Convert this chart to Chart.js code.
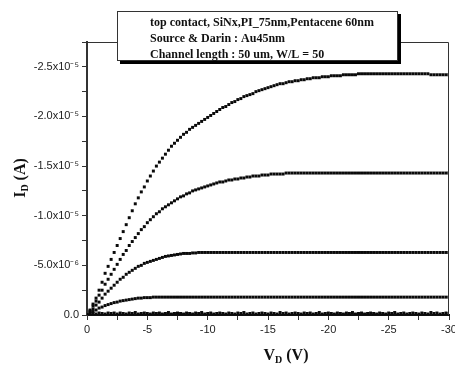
<!DOCTYPE html>
<html>
<head>
<meta charset="utf-8">
<script src="https://cdn.jsdelivr.net/npm/chart.js@4.4.1/dist/chart.umd.min.js"></script>
<style>
  body { margin: 0; background: #fff; }
  #output { display: block; }
</style>
</head>
<body>
<canvas id="output" width="455" height="365"></canvas>
<script>
// drain voltage sweep (V)
const vdSweep = [
  0, -0.25, -0.5, -0.75, -1, -1.25, -1.5, -1.75, -2, -2.25,
  -2.5, -2.75, -3, -3.25, -3.5, -3.75, -4, -4.25, -4.5, -4.75,
  -5, -5.25, -5.5, -5.75, -6, -6.25, -6.5, -6.75, -7, -7.25,
  -7.5, -7.75, -8, -8.25, -8.5, -8.75, -9, -9.25, -9.5, -9.75,
  -10, -10.25, -10.5, -10.75, -11, -11.25, -11.5, -11.75, -12, -12.25,
  -12.5, -12.75, -13, -13.25, -13.5, -13.75, -14, -14.25, -14.5, -14.75,
  -15, -15.25, -15.5, -15.75, -16, -16.25, -16.5, -16.75, -17, -17.25,
  -17.5, -17.75, -18, -18.25, -18.5, -18.75, -19, -19.25, -19.5, -19.75,
  -20, -20.25, -20.5, -20.75, -21, -21.25, -21.5, -21.75, -22, -22.25,
  -22.5, -22.75, -23, -23.25, -23.5, -23.75, -24, -24.25, -24.5, -24.75,
  -25, -25.25, -25.5, -25.75, -26, -26.25, -26.5, -26.75, -27, -27.25,
  -27.5, -27.75, -28, -28.25, -28.5, -28.75, -29, -29.25, -29.5, -29.75,
  -30,
];

// |I_D|, in uA (plotted as negative amps)
const idCurve1 = [
  0, 0.5, 1.1, 1.7, 2.5, 3.3, 4.2, 4.9, 5.6, 6.3,
  7.0, 7.7, 8.4, 9.1, 9.8, 10.5, 11.2, 11.8, 12.4, 12.9,
  13.5, 14.0, 14.5, 15.0, 15.4, 15.8, 16.2, 16.6, 17.0, 17.3,
  17.6, 17.9, 18.2, 18.4, 18.7, 18.9, 19.1, 19.3, 19.5, 19.7,
  19.9, 20.1, 20.3, 20.5, 20.7, 20.9, 21.0, 21.2, 21.4, 21.5,
  21.7, 21.8, 22.0, 22.1, 22.2, 22.3, 22.5, 22.6, 22.7, 22.8,
  22.9, 23.0, 23.1, 23.2, 23.3, 23.3, 23.4, 23.5, 23.5, 23.6,
  23.6, 23.7, 23.7, 23.8, 23.8, 23.9, 23.9, 23.9, 24.0, 24.0,
  24.0, 24.1, 24.1, 24.1, 24.1, 24.2, 24.2, 24.2, 24.2, 24.2,
  24.3, 24.3, 24.3, 24.3, 24.3, 24.3, 24.3, 24.3, 24.3, 24.3,
  24.3, 24.3, 24.3, 24.3, 24.3, 24.3, 24.3, 24.3, 24.3, 24.3,
  24.3, 24.3, 24.3, 24.3, 24.2, 24.2, 24.2, 24.2, 24.2, 24.2,
  24.2,
];
const idCurve2 = [
  0, 0.4, 0.9, 1.4, 2.0, 2.5, 3.1, 3.6, 4.1, 4.6,
  5.1, 5.6, 6.1, 6.5, 7.0, 7.4, 7.8, 8.2, 8.6, 8.9,
  9.3, 9.6, 9.9, 10.2, 10.4, 10.7, 10.9, 11.1, 11.3, 11.5,
  11.7, 11.9, 12.0, 12.2, 12.3, 12.5, 12.6, 12.7, 12.8, 12.9,
  13.0, 13.1, 13.2, 13.3, 13.4, 13.4, 13.5, 13.6, 13.6, 13.7,
  13.7, 13.8, 13.8, 13.9, 13.9, 14.0, 14.0, 14.0, 14.1, 14.1,
  14.1, 14.2, 14.2, 14.2, 14.2, 14.2, 14.3, 14.3, 14.3, 14.3,
  14.3, 14.3, 14.3, 14.3, 14.3, 14.3, 14.3, 14.3, 14.3, 14.3,
  14.3, 14.3, 14.3, 14.3, 14.3, 14.3, 14.3, 14.3, 14.3, 14.3,
  14.3, 14.3, 14.3, 14.3, 14.3, 14.3, 14.3, 14.3, 14.3, 14.3,
  14.3, 14.3, 14.3, 14.3, 14.3, 14.3, 14.3, 14.3, 14.3, 14.3,
  14.3, 14.3, 14.3, 14.3, 14.3, 14.3, 14.3, 14.3, 14.3, 14.3,
  14.3,
];
const idCurve3 = [
  0, 0.3, 0.6, 1.0, 1.3, 1.7, 2.1, 2.4, 2.7, 3.0,
  3.3, 3.6, 3.8, 4.1, 4.3, 4.5, 4.7, 4.9, 5.0, 5.2,
  5.3, 5.4, 5.5, 5.6, 5.7, 5.8, 5.9, 5.95, 6.0, 6.05,
  6.1, 6.15, 6.2, 6.2, 6.2, 6.25, 6.25, 6.3, 6.3, 6.3,
  6.3, 6.3, 6.3, 6.3, 6.3, 6.3, 6.3, 6.3, 6.3, 6.3,
  6.3, 6.3, 6.3, 6.3, 6.3, 6.3, 6.3, 6.3, 6.3, 6.3,
  6.3, 6.3, 6.3, 6.3, 6.3, 6.3, 6.3, 6.3, 6.3, 6.3,
  6.3, 6.3, 6.3, 6.3, 6.3, 6.3, 6.3, 6.3, 6.3, 6.3,
  6.3, 6.3, 6.3, 6.3, 6.3, 6.3, 6.3, 6.3, 6.3, 6.3,
  6.3, 6.3, 6.3, 6.3, 6.3, 6.3, 6.3, 6.3, 6.3, 6.3,
  6.3, 6.3, 6.3, 6.3, 6.3, 6.3, 6.3, 6.3, 6.3, 6.3,
  6.3, 6.3, 6.3, 6.3, 6.3, 6.3, 6.3, 6.3, 6.3, 6.3,
  6.3,
];
const idCurve4 = [
  0, 0.2, 0.35, 0.5, 0.7, 0.8, 0.95, 1.05, 1.15, 1.25,
  1.3, 1.4, 1.45, 1.5, 1.55, 1.6, 1.65, 1.7, 1.7, 1.75,
  1.75, 1.75, 1.8, 1.8, 1.8, 1.8, 1.8, 1.8, 1.8, 1.8,
  1.8, 1.8, 1.8, 1.8, 1.8, 1.8, 1.8, 1.8, 1.8, 1.8,
  1.8, 1.8, 1.8, 1.8, 1.8, 1.8, 1.8, 1.8, 1.8, 1.8,
  1.8, 1.8, 1.8, 1.8, 1.8, 1.8, 1.8, 1.8, 1.8, 1.8,
  1.8, 1.8, 1.8, 1.8, 1.8, 1.8, 1.8, 1.8, 1.8, 1.8,
  1.8, 1.8, 1.8, 1.8, 1.8, 1.8, 1.8, 1.8, 1.8, 1.8,
  1.8, 1.8, 1.8, 1.8, 1.8, 1.8, 1.8, 1.8, 1.8, 1.8,
  1.8, 1.8, 1.8, 1.8, 1.8, 1.8, 1.8, 1.8, 1.8, 1.8,
  1.8, 1.8, 1.8, 1.8, 1.8, 1.8, 1.8, 1.8, 1.8, 1.8,
  1.8, 1.8, 1.8, 1.8, 1.8, 1.8, 1.8, 1.8, 1.8, 1.8,
  1.8,
];
const idCurve5 = [
  0, 0.1, 0.15, 0.1, 0.2, 0.15, 0.1, 0.2, 0.15, 0.2,
  0.1, 0.2, 0.15, 0.1, 0.2, 0.15, 0.25, 0.1, 0.15, 0.2,
  0.15, 0.1, 0.2, 0.15, 0.2, 0.1, 0.15, 0.25, 0.1, 0.15,
  0.2, 0.15, 0.1, 0.2, 0.15, 0.1, 0.2, 0.15, 0.25, 0.1,
  0.15, 0.2, 0.1, 0.15, 0.2, 0.15, 0.1, 0.2, 0.15, 0.1,
  0.2, 0.15, 0.25, 0.1, 0.15, 0.2, 0.1, 0.15, 0.2, 0.15,
  0.1, 0.2, 0.15, 0.1, 0.25, 0.15, 0.2, 0.1, 0.15, 0.2,
  0.15, 0.1, 0.2, 0.15, 0.2, 0.1, 0.15, 0.25, 0.1, 0.15,
  0.2, 0.15, 0.1, 0.2, 0.15, 0.1, 0.2, 0.15, 0.25, 0.1,
  0.15, 0.2, 0.1, 0.15, 0.2, 0.15, 0.1, 0.2, 0.15, 0.1,
  0.2, 0.15, 0.25, 0.1, 0.15, 0.2, 0.1, 0.15, 0.2, 0.15,
  0.1, 0.2, 0.15, 0.1, 0.25, 0.15, 0.2, 0.1, 0.15, 0.2,
  0.15,
];

const noteLines = [
  'top contact, SiNx,PI_75nm,Pentacene 60nm',
  'Source & Darin : Au45nm',
  'Channel length : 50 um, W/L = 50',
];

const supDigits = { '5': '\u2075', '6': '\u2076' };

function toPoints(currents) {
  return vdSweep.map((v, i) => ({ x: v, y: -currents[i] * 1e-6 }));
}

function curveDataset(currents) {
  return {
    data: toPoints(currents),
    pointStyle: 'rect',
    pointRadius: 2.1,
    pointBorderWidth: 0,
    pointBackgroundColor: '#0a0a0a',
    showLine: false,
  };
}

// text with a subscript part: [main, sub, rest]
function drawSubText(ctx, x, y, parts, big, small) {
  ctx.font = big;
  const w0 = ctx.measureText(parts[0]).width;
  const w2 = ctx.measureText(parts[2]).width;
  ctx.font = small;
  const w1 = ctx.measureText(parts[1]).width;
  let cx = x - (w0 + w1 + w2) / 2;
  ctx.textAlign = 'left';
  ctx.font = big;
  ctx.fillText(parts[0], cx, y);
  cx += w0;
  ctx.font = small;
  ctx.fillText(parts[1], cx, y + 3);
  cx += w1;
  ctx.font = big;
  ctx.fillText(parts[2], cx, y);
}

const frameAndNotes = {
  id: 'frameAndNotes',
  afterDraw(chart) {
    const { ctx, chartArea: a } = chart;
    ctx.save();

    // thin top/right frame
    ctx.strokeStyle = '#333';
    ctx.lineWidth = 1;
    ctx.beginPath();
    ctx.moveTo(a.left, a.top + 0.5);
    ctx.lineTo(a.right - 0.5, a.top + 0.5);
    ctx.lineTo(a.right - 0.5, a.bottom);
    ctx.stroke();

    // note box with shadow
    ctx.fillStyle = '#000';
    ctx.fillRect(120, 14, 281, 50);
    ctx.fillStyle = '#fff';
    ctx.fillRect(117, 11, 281, 50);
    ctx.strokeStyle = '#333';
    ctx.strokeRect(117.5, 11.5, 280, 49);

    ctx.fillStyle = '#111';
    ctx.font = 'bold 12px "Liberation Serif"';
    ctx.textAlign = 'left';
    ctx.textBaseline = 'alphabetic';
    noteLines.forEach((line, i) => ctx.fillText(line, 150, 26 + i * 16));

    // axis titles
    const big = 'bold 16px "Liberation Serif"';
    const small = 'bold 10px "Liberation Serif"';
    drawSubText(ctx, 286, 360, ['V', 'D', ' (V)'], big, small);

    ctx.translate(25, 178);
    ctx.rotate(-Math.PI / 2);
    drawSubText(ctx, 0, 0, ['I', 'D', ' (A)'], big, small);

    ctx.restore();
  }
};

new Chart(document.getElementById('output'), {
  type: 'scatter',
  data: {
    datasets: [
      curveDataset(idCurve1),
      curveDataset(idCurve2),
      curveDataset(idCurve3),
      curveDataset(idCurve4),
      curveDataset(idCurve5),
    ]
  },
  plugins: [frameAndNotes],
  options: {
    responsive: false,
    animation: false,
    devicePixelRatio: 1,
    layout: { padding: { left: 0, top: 42, right: 6, bottom: 0 } },
    plugins: {
      legend: { display: false },
      tooltip: { enabled: false },
    },
    scales: {
      x: {
        type: 'linear',
        reverse: true,
        min: -30,
        max: 0,
        border: { display: true, color: '#111', width: 2 },
        grid: { display: true, drawOnChartArea: false, tickLength: 5, tickColor: '#333' },
        ticks: {
          stepSize: 2.5,
          autoSkip: false,
          maxRotation: 0,
          padding: 3,
          color: '#222',
          font: { family: '"Liberation Sans"', size: 11 },
          callback: (v) => (Math.round(v / 2.5) % 2 === 0 ? String(Math.round(v)) : ''),
        },
        afterFit: (scale) => {
          scale.height = 50;
          scale.paddingLeft = 0;
          scale.paddingRight = 0;
        },
      },
      y: {
        type: 'linear',
        reverse: true,
        min: -2.75e-5,
        max: 0,
        border: { display: true, color: '#333', width: 2 },
        grid: { display: true, drawOnChartArea: false, tickLength: 5, tickColor: '#333' },
        ticks: {
          stepSize: 2.5e-6,
          includeBounds: false,
          autoSkip: false,
          padding: 3,
          color: '#222',
          font: { family: '"Liberation Sans"', size: 11 },
          callback: (v) => {
            const k = Math.round(v / 2.5e-6);
            if (k % 2 !== 0) return '';
            if (k === 0) return '0.0';
            const mag = Math.abs(k * 2.5);
            if (mag >= 10) return '-' + (mag / 10).toFixed(1) + 'x10\u207B' + supDigits['5'];
            return '-' + mag.toFixed(1) + 'x10\u207B' + supDigits['6'];
          },
        },
        afterFit: (scale) => {
          scale.width = 87;
          scale.paddingTop = 0;
          scale.paddingBottom = 0;
        },
      },
    },
  },
});
</script>
</body>
</html>
